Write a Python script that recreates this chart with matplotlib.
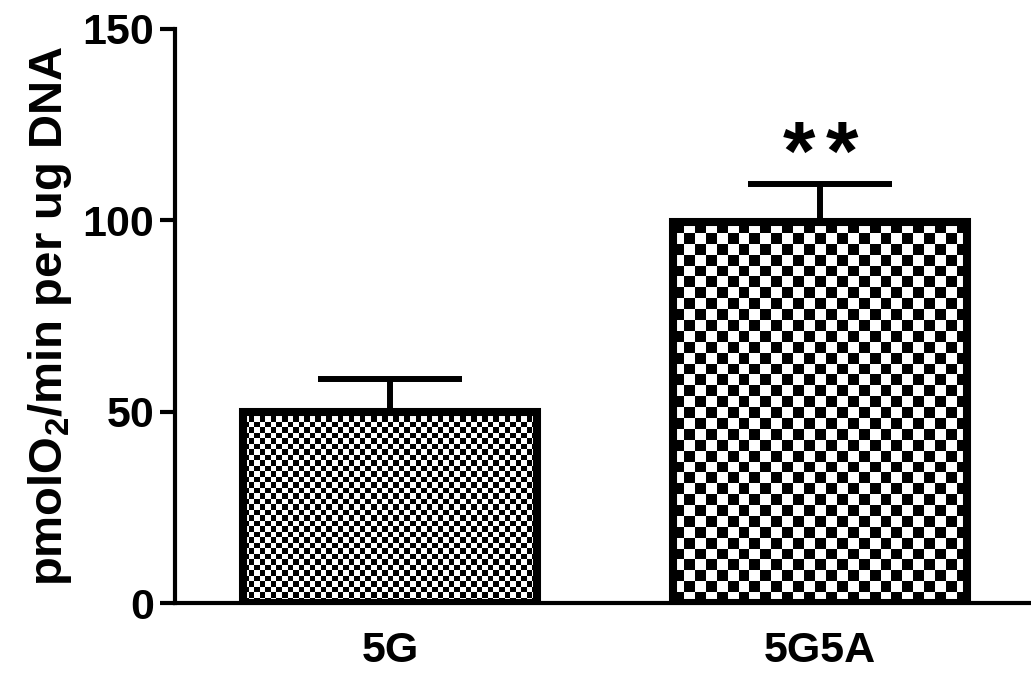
import numpy as np
import matplotlib
matplotlib.use("Agg")
import matplotlib.pyplot as plt

plt.rcParams["font.family"] = ["Liberation Sans", "DejaVu Sans"]
plt.rcParams["font.weight"] = "bold"
plt.rcParams["mathtext.fontset"] = "custom"
plt.rcParams["mathtext.bf"] = "Liberation Sans:bold"
plt.rcParams["mathtext.rm"] = "Liberation Sans:bold"
plt.rcParams["mathtext.default"] = "bf"

groups = ["5G", "5G5A"]
means = [50, 99.5]
sems = [8.5, 10]
check_px = [5.5, 11]  # checker cell size in pixels for each bar
yticks = [0, 50, 100, 150]

fig = plt.figure(figsize=(10.31, 6.73), dpi=100)
ax = fig.add_axes([0.1697, 0.104, 0.8303, 0.853])

x = np.arange(len(groups))
width = 0.684
bars = ax.bar(x, means, width=width, facecolor="white", edgecolor="none", zorder=1)
ax.errorbar(x, means, yerr=[np.zeros(len(sems)), sems], fmt="none", ecolor="black",
            elinewidth=4.3, capsize=52, capthick=4.3, zorder=0)

ax.set_xlim(-0.5, 1.49)
ax.set_ylim(0, 150)
fig.canvas.draw()

# checkerboard fill clipped to each bar
for rect, cell in zip(bars, check_px):
    x0, y0 = rect.get_x(), rect.get_y()
    w, h = rect.get_width(), rect.get_height()
    p0 = ax.transData.transform((x0, y0))
    p1 = ax.transData.transform((x0 + w, y0 + h))
    nx = max(int(round(abs(p1[0] - p0[0]) / cell)), 1)
    ny = max(int(round(abs(p1[1] - p0[1]) / cell)), 1)
    board = (np.add.outer(np.arange(ny), np.arange(nx)) % 2).astype(float)
    im = ax.imshow(board, cmap="gray", extent=(x0, x0 + w, y0, y0 + h), aspect="auto",
                   interpolation="nearest", zorder=2, origin="lower")
    im.set_clip_path(rect)

ax.bar(x, means, width=width, facecolor="none", edgecolor="black", linewidth=5.8, zorder=3)

# significance stars, two spaced asterisks above the 5G5A error bar
star_y = means[1] + sems[1]
for dx in (-15.5, 15.5):
    ax.annotate("*", xy=(1, star_y), xytext=(dx, -9), textcoords="offset points",
                ha="center", va="bottom", fontsize=60, fontweight="bold")

ax.spines["top"].set_visible(False)
ax.spines["right"].set_visible(False)
ax.spines["left"].set_linewidth(3)
ax.spines["bottom"].set_linewidth(3)
ax.set_yticks(yticks)
ax.set_xticks(x)
ax.set_xticklabels(groups)
ax.tick_params(axis="y", length=11, width=3, labelsize=31, pad=4)
ax.tick_params(axis="x", length=0, labelsize=31, pad=20)
ax.set_ylabel(r"pmolO$_2$/min per ug DNA", fontsize=34, fontweight="bold", labelpad=6)

fig.savefig("out.png", dpi=100)
